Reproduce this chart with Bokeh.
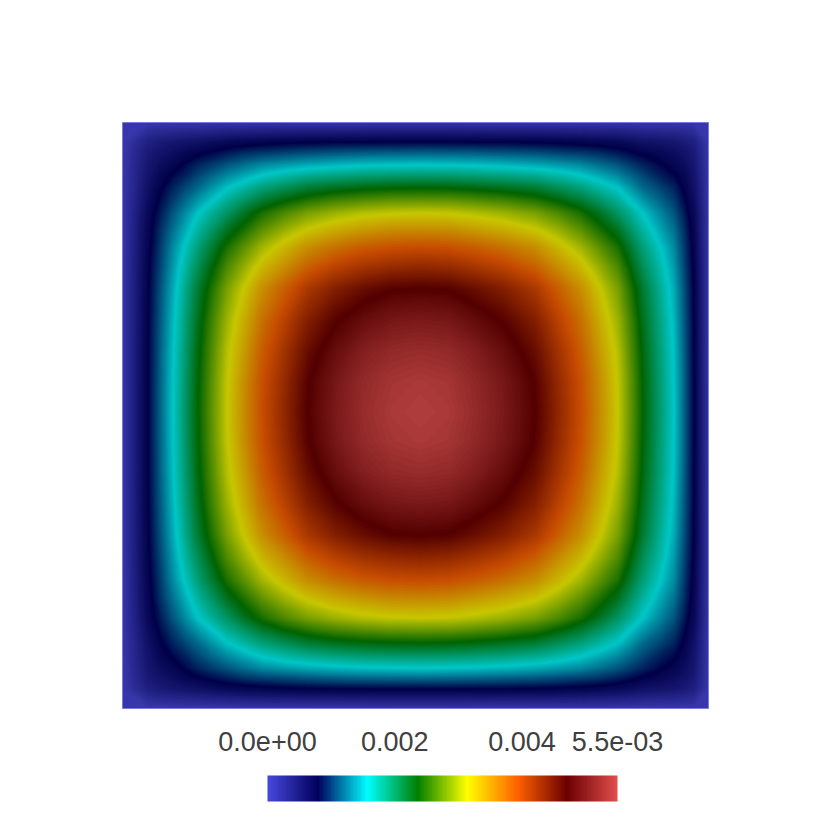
import numpy as np
from bokeh.plotting import figure
from bokeh.models import Range1d, ColorBar, LinearColorMapper, FixedTicker, Label
from bokeh.embed import file_html
from bokeh.resources import INLINE

# Grid nodes, as fractions of the square's side (x from left, y from top)
x_nodes = [0, .0444, .0657, .0870, .1084, .1297, .1544, .1792, .2090, .2389, .2773, .3157, .3626, .4096, .4590, .5085,
           .5580, .5973, .6510, .7048, .7432, .7816, .8131, .8447, .8660, .8874, .9138, .9403, .9573, .9744, 1]
y_nodes = [0, .0341, .0538, .0734, .0930, .1126, .1340, .1553, .1843, .2133, .2483, .2833, .3362, .3891, .4411, .4932,
           .5452, .5973, .6510, .7048, .7432, .7816, .8131, .8447, .8660, .8874, .9087, .9300, .9480, .9659, 1]

# Field, as % of the colour range. Rows and columns run
# from the first node inside the edge to the peak node; the value is 0 on the edge.
field_pct = [
    [6.4, 7.9, 8.8, 9.5, 10.1, 11.1, 12.1, 12.6, 13.1, 13.6, 13.9, 14.1, 14.2, 14.3, 14.3],
    [7.9, 9.8, 11.3, 12.7, 13.9, 15.2, 16.4, 17.8, 18.6, 19.4, 20.2, 20.8, 21.2, 21.4, 21.5],
    [8.8, 11.3, 13.0, 15.1, 17.1, 18.8, 20.6, 22.5, 24.3, 25.4, 26.5, 27.4, 28.1, 28.4, 28.6],
    [9.5, 12.7, 15.1, 17.1, 19.7, 22.1, 24.5, 26.9, 29.3, 31.4, 33.0, 34.2, 35.0, 35.5, 35.7],
    [10.1, 13.9, 17.1, 19.7, 22.0, 25.3, 28.5, 31.5, 34.4, 36.9, 39.4, 40.9, 42.0, 42.6, 42.9],
    [11.1, 15.2, 18.8, 22.1, 25.3, 28.5, 32.4, 36.0, 39.5, 42.7, 45.4, 47.6, 48.9, 49.8, 50.0],
    [12.1, 16.4, 20.6, 24.5, 28.5, 32.4, 36.0, 40.7, 44.8, 48.5, 51.6, 54.1, 55.9, 56.8, 57.1],
    [12.6, 17.8, 22.5, 26.9, 31.5, 36.0, 40.7, 45.0, 49.6, 53.9, 57.6, 60.5, 62.5, 64.0, 64.3],
    [13.1, 18.6, 24.3, 29.3, 34.4, 39.5, 44.8, 49.6, 54.5, 59.2, 63.7, 67.1, 69.5, 70.9, 71.4],
    [13.6, 19.4, 25.4, 31.4, 36.9, 42.7, 48.5, 53.9, 59.2, 64.0, 69.2, 73.3, 76.1, 77.8, 78.5],
    [13.9, 20.2, 26.5, 33.0, 39.4, 45.4, 51.6, 57.6, 63.7, 69.2, 75.0, 79.7, 83.0, 85.2, 85.7],
    [14.1, 20.8, 27.4, 34.2, 40.9, 47.6, 54.1, 60.5, 67.1, 73.3, 79.7, 85.0, 88.6, 90.9, 91.5],
    [14.2, 21.2, 28.1, 35.0, 42.0, 48.9, 55.9, 62.5, 69.5, 76.1, 83.0, 88.6, 92.8, 95.3, 96.0],
    [14.3, 21.4, 28.4, 35.5, 42.6, 49.8, 56.8, 64.0, 70.9, 77.8, 85.2, 90.9, 95.3, 98.0, 99.0],
    [14.3, 21.5, 28.6, 35.7, 42.9, 50.0, 57.1, 64.3, 71.4, 78.5, 85.7, 91.5, 96.0, 99.0, 100],
]

value_max = 5.5  # unit 1e-3
tick_values = [0, 2, 4, 5.5]
tick_labels = ["0.0e+00", "0.002", "0.004", "5.5e-03"]

# Rainbow Desaturated colour map
cm_stops = [0, .143, .285, .429, .571, .714, .857, 1]
cm_rgb = [(71, 71, 219), (0, 0, 92), (0, 255, 255), (0, 127, 0),
          (255, 255, 0), (255, 97, 0), (107, 0, 0), (224, 77, 77)]
SHADE = 0.78


def palette(n, shade=1.0):
    t = np.linspace(0, 1, n)
    arr = np.array(cm_rgb, dtype=float)
    chans = [np.interp(t, cm_stops, arr[:, i]) * shade for i in range(3)]
    return ["#%02x%02x%02x" % (int(round(r)), int(round(g)), int(round(b))) for r, g, b in zip(*chans)]


# The field's rows and columns are mirrored about the peak node
quarter = np.pad(np.array(field_pct), ((1, 0), (1, 0)))
mirror = list(range(16)) + list(range(14, -1, -1))
field = quarter[np.ix_(mirror, mirror)] / 100 * value_max

W = H = 826
LEFT_PX, SIDE_PX = 122, 586
lo = -LEFT_PX / SIDE_PX
hi = (W - LEFT_PX) / SIDE_PX

p = figure(width=W, height=H, output_backend="svg", toolbar_location=None,
           x_range=Range1d(lo, hi), y_range=Range1d(hi, lo), min_border=0)
p.axis.visible = False
p.grid.visible = False
p.outline_line_color = None
p.background_fill_color = "white"

N = 160
levels = np.linspace(-0.0001, value_max + 0.0001, N + 1)
p.contour(np.array(x_nodes), np.array(y_nodes), field, levels,
          fill_color=palette(N, SHADE), line_color=palette(N + 1, SHADE), line_width=2)

p.quad(left=[0], right=[1], top=[0], bottom=[1], fill_color=None,
       line_color="#7a7ae0", line_width=1)

BAR_L, BAR_W, BAR_H = 267, 350, 26
mapper = LinearColorMapper(palette=palette(256), low=0, high=value_max)
bar = ColorBar(color_mapper=mapper, orientation="horizontal", width=BAR_W, height=BAR_H,
               location=(BAR_L, 25), padding=0, margin=0, label_standoff=0,
               ticker=FixedTicker(ticks=[]), major_tick_line_color=None,
               minor_tick_line_color=None, bar_line_color=None,
               major_label_text_color=None, major_label_text_font_size="1px",
               background_fill_color=None, border_line_color=None)
p.add_layout(bar, "center")

for v, s in zip(tick_values, tick_labels):
    p.add_layout(Label(x=BAR_L + v / value_max * BAR_W, y=H - 741, x_units="screen", y_units="screen",
                       text=s, text_font="Liberation Sans", text_font_size="27px",
                       text_color="#404040", text_align="center", text_baseline="middle"))

open("out.html", "w").write(file_html(p, INLINE))
